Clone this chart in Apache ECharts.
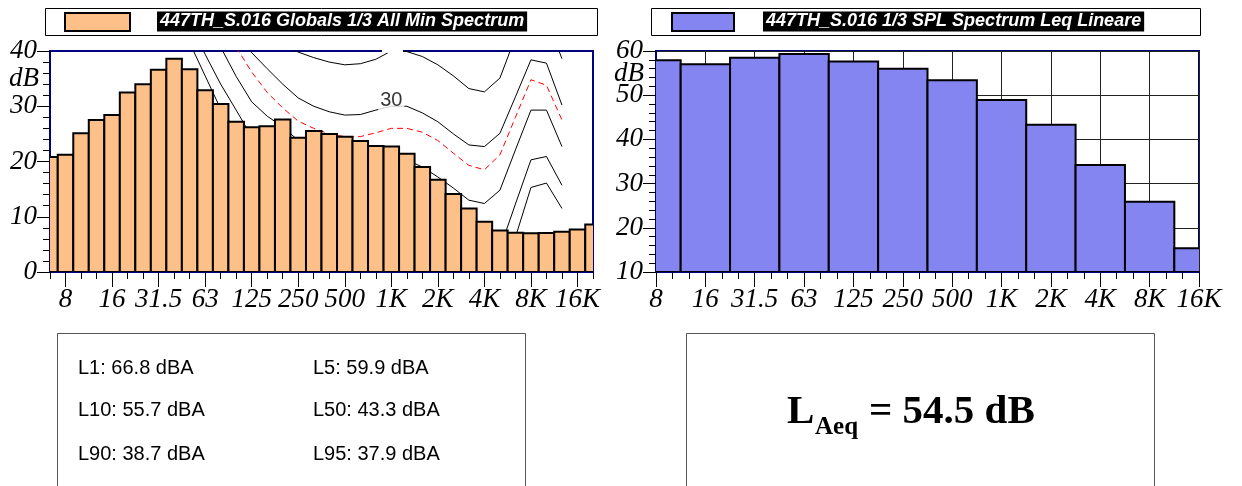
<!DOCTYPE html>
<html><head><meta charset="utf-8">
<script src="https://cdn.jsdelivr.net/npm/echarts@6/dist/echarts.min.js"></script>
<style>html,body{margin:0;padding:0;background:#fff}#c{width:1242px;height:486px}</style>
</head><body><div id="c"></div>
<script>
// ---- data ----
const thirdOctaveBands = ['6.3','8','10','12.5','16','20','25','31.5','40','50','63','80','100','125','160','200','250','315','400','500','630','800','1K','1.25K','1.6K','2K','2.5K','3.15K','4K','5K','6.3K','8K','10K','12.5K','16K','20K'];
const octaveLabels = ['8','16','31.5','63','125','250','500','1K','2K','4K','8K','16K'];
const minSpectrum = [20.8,21.2,25.1,27.5,28.4,32.5,34.0,36.6,38.6,36.7,32.9,30.4,27.2,26.2,26.4,27.6,24.3,25.5,25.0,24.5,23.7,22.8,22.7,21.4,19.0,16.7,14.1,11.5,9.1,7.5,7.1,7.0,7.05,7.3,7.7,8.6];
const leqSpectrum = [57.9,57.0,58.5,59.3,57.6,56.0,53.4,48.9,43.3,34.2,25.9,15.4];
const contour0  = [null,null,null,null,null,null,null,null,null,41.5,35.5,29.5,25.5,22,19,16,13.5,11,9,7,5.5,4.5,4,4,3,1.5,0,-1.5,-2,-2.5,6.3,15.3,16.1,11.5,null,null];
const contour10 = [null,null,null,null,null,null,null,null,null,45.1,39.4,34.0,29.3,24.5,22,19.5,17.5,15.5,13.5,12.0,11.0,10.5,10.0,10.5,9.5,7.5,5.5,3.5,3.0,4.2,12.3,20.3,20.9,15.7,null,null];
const contour20 = [null,null,null,null,null,null,null,null,null,null,null,40.7,35.4,30.8,28.2,26.3,23.8,23.0,22.0,21.0,20.5,20.3,20.3,20.3,19.0,17.2,15.2,13.0,12.4,14.8,22.1,29.3,29.3,22.7,null,null];
const thresholdCurve = [null,null,null,null,null,null,null,null,null,null,null,null,40.7,36.2,32.5,29.7,27.3,26.0,25.0,24.5,24.5,25.2,26.0,26.0,25.3,23.8,21.5,19.3,18.5,21.2,28.0,34.8,33.8,27.5,null,null];
const contour30 = [null,null,null,null,null,null,null,null,null,null,null,null,43.0,39.7,36.8,34.0,31.5,30.0,29.0,28.4,28.5,29.3,30.0,30.0,28.8,27.2,25.0,23.0,22.7,25.1,31.7,38.4,37.8,30.2,null,null];
const contour40 = [null,null,null,null,null,null,null,null,null,null,null,null,null,null,null,41.2,39.8,38.8,38.0,37.5,37.7,38.5,40.0,39.9,39.0,37.5,35.5,33.2,32.6,35.1,42.5,48.0,46.0,38.6,null,null];
const leftTitle = '447TH_S.016 Globals 1/3 All Min Spectrum';
const rightTitle = '447TH_S.016 1/3 SPL Spectrum Leq Lineare';
const statsLabels = ['L1: 66.8 dBA','L5: 59.9 dBA','L10: 55.7 dBA','L50: 43.3 dBA','L90: 38.7 dBA','L95: 37.9 dBA'];
const laeqValue = '54.5';

// ---- styles ----
const serif = "'Liberation Serif','Times New Roman',serif";
const sans = "'Liberation Sans',Arial,sans-serif";
const tickLabel = {fontFamily: serif, fontStyle: 'italic', fontSize: 27, color: '#000'};
const navy = '#000080';
const orange = '#FDC088';
const blue = '#8585F2';
const isOctave = (i) => (i - 1) % 3 === 0;
const rightTicks = thirdOctaveBands.slice(1, 35);

const chart = echarts.init(document.getElementById('c'), null, {renderer: 'canvas'});

function contourSeries(data, color, dashed) {
  return {
    type: 'line', xAxisIndex: 0, yAxisIndex: 0, data: data, symbol: 'none', clip: true,
    silent: true, z: 1,
    lineStyle: {color: color, width: 1, type: dashed ? [6, 4] : 'solid'}
  };
}

function barRenderer(fill) {
  return function (params, api) {
    const cs = params.coordSys;
    const top = api.coord([api.value(0), api.value(1)]);
    const w = api.size([1, 0])[0];
    const baseY = cs.y + cs.height;
    return {
      type: 'rect',
      shape: {x: top[0] - w / 2, y: top[1], width: w, height: baseY - top[1]},
      style: {fill: fill, stroke: '#000', lineWidth: 2}
    };
  };
}

const graphics = [
  // legend boxes
  {type: 'rect', shape: {x: 45.5, y: 8.5, width: 552, height: 27}, style: {fill: '#fff', stroke: '#000', lineWidth: 1}},
  {type: 'rect', shape: {x: 65, y: 13, width: 65, height: 18}, style: {fill: orange, stroke: '#000', lineWidth: 2}},
  {type: 'text', x: 157, y: 21.5, style: {text: leftTitle, fill: '#fff', backgroundColor: '#000', padding: [1, 3, 1, 3], font: "italic bold 18px " + sans, verticalAlign: 'middle'}},
  {type: 'rect', shape: {x: 651.5, y: 8.5, width: 549, height: 27}, style: {fill: '#fff', stroke: '#000', lineWidth: 1}},
  {type: 'rect', shape: {x: 672, y: 13, width: 62, height: 18}, style: {fill: blue, stroke: '#000', lineWidth: 2}},
  {type: 'text', x: 763, y: 21.5, style: {text: rightTitle, fill: '#fff', backgroundColor: '#000', padding: [1, 3, 1, 3], font: "italic bold 18px " + sans, verticalAlign: 'middle'}},
  // dB unit labels
  {type: 'text', x: 24, y: 79, style: {text: 'dB', font: "italic 27px " + serif, fill: '#000', align: 'center', verticalAlign: 'middle'}},
  {type: 'text', x: 629, y: 74, style: {text: 'dB', font: "italic 27px " + serif, fill: '#000', align: 'center', verticalAlign: 'middle'}},
  // hidden contour label patch at top border
  {type: 'rect', z: 100, shape: {x: 382, y: 48, width: 21, height: 5}, style: {fill: '#fff'}},
  // bottom boxes
  {type: 'rect', shape: {x: 57.5, y: 333.5, width: 468, height: 170}, style: {fill: 'none', stroke: '#555', lineWidth: 1}},
  {type: 'rect', shape: {x: 686.5, y: 333.5, width: 468, height: 170}, style: {fill: 'none', stroke: '#555', lineWidth: 1}},
  {type: 'text', x: 787, y: 412, style: {text: 'L', font: "bold 41px " + serif, fill: '#000', verticalAlign: 'middle'}},
  {type: 'text', x: 815, y: 428, style: {text: 'Aeq', font: "bold 25px " + serif, fill: '#000', verticalAlign: 'middle'}},
  {type: 'text', x: 869, y: 412, style: {text: '= ' + laeqValue + ' dB', font: "bold 41px " + serif, fill: '#000', verticalAlign: 'middle'}}
];
const statX = [78, 313], statY = [368, 410, 454];
statsLabels.forEach((t, i) => {
  graphics.push({type: 'text', x: statX[i % 2], y: statY[Math.floor(i / 2)],
    style: {text: t, font: "20px " + sans, fill: '#000', verticalAlign: 'middle'}});
});

const option = {
  animation: false,
  backgroundColor: '#fff',
  grid: [
    {left: 50, top: 51, width: 543, height: 221, show: true, borderColor: navy, borderWidth: 2, backgroundColor: '#fff', containLabel: false},
    {left: 656, top: 51, width: 543, height: 221, show: true, borderColor: navy, borderWidth: 2, backgroundColor: '#fff', containLabel: false}
  ],
  xAxis: [
    {type: 'category', gridIndex: 0, data: thirdOctaveBands, boundaryGap: false, position: 'bottom',
     axisLine: {lineStyle: {color: navy, width: 2}},
     axisTick: {interval: isOctave, length: 15, lineStyle: {color: '#000'}},
     axisLabel: {interval: isOctave, margin: 14, ...tickLabel},
     splitLine: {show: false}},
    {type: 'category', gridIndex: 0, data: thirdOctaveBands, boundaryGap: false, position: 'bottom', min: 0, max: 35,
     axisLine: {show: false}, axisTick: {interval: 0, length: 7, lineStyle: {color: '#000'}},
     axisLabel: {show: false}, splitLine: {show: false}},
    {type: 'category', gridIndex: 1, data: octaveLabels, boundaryGap: false, position: 'bottom',
     axisLine: {lineStyle: {color: navy, width: 2}},
     axisTick: {interval: 0, length: 15, lineStyle: {color: '#000'}},
     axisLabel: {interval: 0, margin: 14, ...tickLabel},
     splitLine: {show: true, interval: 0, lineStyle: {color: '#222', width: 1}}},
    {type: 'category', gridIndex: 1, data: rightTicks, boundaryGap: false, position: 'bottom', min: 0, max: 33,
     axisLine: {show: false}, axisTick: {interval: 0, length: 7, lineStyle: {color: '#000'}},
     axisLabel: {show: false}, splitLine: {show: false}}
  ],
  yAxis: [
    {type: 'value', gridIndex: 0, min: 0, max: 40, interval: 10,
     axisLine: {show: true, lineStyle: {color: navy, width: 2}},
     axisTick: {show: true, length: 13, lineStyle: {color: '#000'}},
     minorTick: {show: true, splitNumber: 5, length: 7, lineStyle: {color: '#000'}},
     axisLabel: {margin: 13, ...tickLabel},
     splitLine: {show: false}},
    {type: 'value', gridIndex: 1, min: 10, max: 60, interval: 10,
     axisLine: {show: true, lineStyle: {color: navy, width: 2}},
     axisTick: {show: true, length: 13, lineStyle: {color: '#000'}},
     minorTick: {show: true, splitNumber: 5, length: 7, lineStyle: {color: '#000'}},
     axisLabel: {margin: 13, ...tickLabel},
     splitLine: {show: true, lineStyle: {color: '#222', width: 1}}}
  ],
  series: [
    contourSeries(contour0, '#000', false),
    contourSeries(contour10, '#000', false),
    contourSeries(contour20, '#000', false),
    contourSeries(thresholdCurve, '#ff0000', true),
    contourSeries(contour30, '#000', false),
    contourSeries(contour40, '#000', false),
    {type: 'custom', name: leftTitle, xAxisIndex: 0, yAxisIndex: 0,
     data: minSpectrum.map((v, i) => [i, v]), encode: {x: 0, y: 1},
     renderItem: barRenderer(orange), clip: true, z: 3, silent: true},
    {type: 'scatter', xAxisIndex: 0, yAxisIndex: 0, data: [[22, contour30[22]]], symbolSize: 1, z: 5, silent: true,
     itemStyle: {color: 'rgba(0,0,0,0)'},
     label: {show: true, position: 'inside', offset: [0, -6], formatter: '30', fontFamily: sans, fontSize: 20, color: '#000', backgroundColor: '#fff', padding: [0, 2]}},
    {type: 'custom', name: rightTitle, xAxisIndex: 2, yAxisIndex: 1,
     data: leqSpectrum.map((v, i) => [i, v]), encode: {x: 0, y: 1},
     renderItem: barRenderer(blue), clip: true, z: 3, silent: true}
  ],
  graphic: graphics
};
chart.setOption(option);
</script></body></html>
